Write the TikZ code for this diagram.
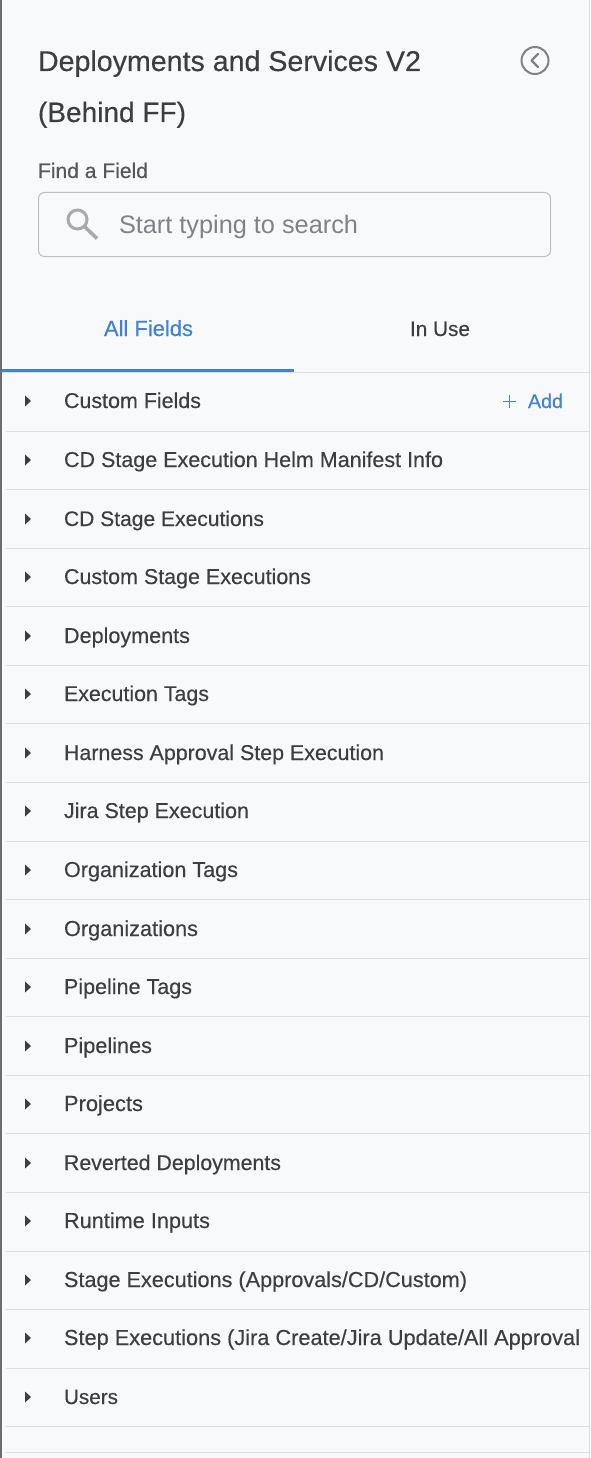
\documentclass[tikz,border=0pt]{standalone}
\usepackage{fontspec}
\setmainfont[BoldFont={Liberation Sans},BoldFeatures={FakeBold=0.35}]{Liberation Sans}
\definecolor{bgc}{HTML}{F8F9FB}
\definecolor{ink}{HTML}{3C3E42}
\definecolor{inkb}{HTML}{55575B}
\definecolor{blu}{HTML}{3F82D6}
\definecolor{sep}{HTML}{DCDEE1}
\definecolor{edge}{HTML}{6B6D70}
\definecolor{mute}{HTML}{7F8286}
\definecolor{boxc}{HTML}{BDBFC2}
\definecolor{icn}{HTML}{A8AAAD}
\newcommand{\fitw}[2]{\resizebox{#1pt}{!}{\strut #2}}
\tikzset{
 txt/.style={inner sep=0pt,outer sep=0pt,anchor=base west},
 rowtxt/.style={txt,text=ink,font=\bfseries\fontsize{20}{24}\selectfont},
 rule/.style={draw=sep,line width=1pt},
 tri/.style={fill=ink,draw=none},
}
\begin{document}
\begin{tikzpicture}[x=1pt,y=-1pt]
\useasboundingbox (0,0) rectangle (590,1458);
\fill[bgc] (0,0) rectangle (590,1458);
\fill[edge] (0,0) rectangle (2,1458);
\fill[sep] (589,0) rectangle (590,1458);
% header
\node[txt,text=ink,font=\bfseries\fontsize{28}{32}\selectfont] (title1) at (38,71) {\fitw{383}{Deployments and Services V2}};
\node[txt,text=ink,font=\bfseries\fontsize{28}{32}\selectfont] (title2) at (38,122) {\fitw{148}{(Behind FF)}};
\draw[mute,line width=2pt] (535,60.5) circle (13.5);
\draw[mute,line width=2.2pt,line cap=round,line join=round] (538,54) -- (531.5,60.5) -- (538,67);
\node[txt,text=inkb,font=\bfseries\fontsize{20}{24}\selectfont] (find) at (38,178) {\fitw{110}{Find a Field}};
\draw[boxc,line width=1pt,rounded corners=6pt] (38.5,192.5) rectangle (550.5,256.5);
\draw[icn,line width=3pt] (77.5,219.5) circle (9.5);
\draw[icn,line width=3.6pt] (84.5,226.5) -- (97,238.5);
\node[txt,text=mute,font=\fontsize{25}{30}\selectfont] (search) at (119,233) {\fitw{239}{Start typing to search}};
% tabs
\node[txt,text=blu,font=\bfseries\fontsize{20}{24}\selectfont] (tabA) at (104,336) {\fitw{89}{All Fields}};
\node[txt,text=ink,font=\bfseries\fontsize{20}{24}\selectfont] (tabB) at (410,336) {\fitw{60}{In Use}};
\draw[rule] (2,372.5) -- (590,372.5);
\fill[blu] (2,368.5) rectangle (294,372);
% rows
\foreach \yy/\rowname/\rowlen in {
 401/Custom Fields/137,
 460/CD Stage Execution Helm Manifest Info/379,
 519/CD Stage Executions/200,
 577/Custom Stage Executions/247,
 636/Deployments/126,
 694/Execution Tags/145,
 753/Harness Approval Step Execution/320,
 811/Jira Step Execution/185,
 870/Organization Tags/174,
 929/Organizations/134,
 987/Pipeline Tags/128,
 1046/Pipelines/88,
 1104/Projects/79,
 1163/Reverted Deployments/217,
 1221/Runtime Inputs/146,
 1280/Stage Executions (Approvals{/}CD{/}Custom)/403,
 1338/Step Executions (Jira Create{/}Jira Update{/}All Approval/516,
 1397/Users/54}
{
 \pgfmathsetmacro{\by}{\yy+7}
 \node[rowtxt] (row\yy) at (64,\by) {\fitw{\rowlen}{\rowname}};
 \fill[ink] (25,\yy-5.5) -- (31,\yy) -- (25,\yy+5.5) -- cycle;
}
\foreach \ly in {431,489.5,548,606.5,665,723.5,782,841,899.5,958,1016.5,1075,1133.5,1192,1251,1309.5,1368,1426.5,1452.5}
 \draw[rule] (6,\ly) -- (590,\ly);
% add
\draw[blu,line width=1.6pt] (503,401.5) -- (516,401.5) (509.5,395) -- (509.5,408);
\node[txt,text=blu,font=\bfseries\fontsize{20}{24}\selectfont] (add) at (528,408) {\fitw{35}{Add}};
\end{tikzpicture}
\end{document}
